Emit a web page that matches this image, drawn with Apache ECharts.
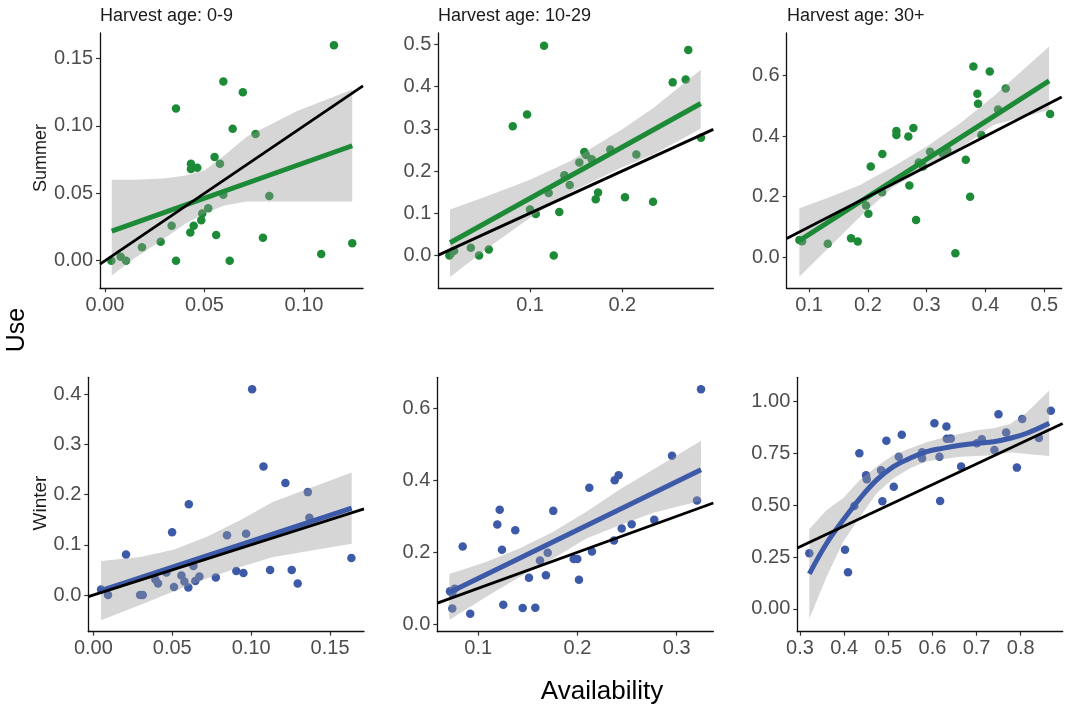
<!DOCTYPE html>
<html style="height: 100%">
<head>
<meta charset="utf-8">
<script src="https://cdn.jsdelivr.net/npm/echarts@6/dist/echarts.min.js"></script>
</head>
<body style="height: 100%; margin: 0; background: #fff">
<div id="container" style="width: 1069px; height: 711px"></div>
<script>
// ---- Summer, harvest age 0-9
var s09X = [0.1151, 0.0595, 0.0693, 0.0357, 0.0642, 0.0757, 0.0551, 0.0578, 0.0432, 0.0432, 0.0464, 0.0595, 0.0826, 0.0519, 0.0489, 0.0484, 0.0335, 0.0446, 0.0429, 0.0559, 0.0794, 0.0280, 0.0186, 0.1243, 0.1087, 0.0079, 0.0106, 0.0032, 0.0357, 0.0627];
var s09Y = [0.160, 0.133, 0.125, 0.113, 0.098, 0.094, 0.077, 0.072, 0.072, 0.068, 0.069, 0.049, 0.048, 0.039, 0.035, 0.030, 0.026, 0.026, 0.021, 0.019, 0.017, 0.014, 0.010, 0.013, 0.005, 0.003, 0.000, 0.000, 0.000, 0.000];
var s09FitX = [0.0034, 0.1243];
var s09FitY = [0.022, 0.0853];
var s09BandX = [0.0034, 0.015, 0.0293, 0.04, 0.05, 0.06, 0.0712, 0.0963, 0.1243];
var s09BandHi = [0.060, 0.060, 0.061, 0.063, 0.067, 0.078, 0.092, 0.111, 0.127];
var s09BandLo = [-0.011, 0.002, 0.016, 0.027, 0.035, 0.041, 0.044, 0.044, 0.044];

// ---- Summer, harvest age 10-29
var s1029X = [0.1152, 0.2715, 0.2546, 0.2687, 0.0968, 0.0813, 0.2853, 0.187, 0.1588, 0.1607, 0.1668, 0.2152, 0.1534, 0.1372, 0.143, 0.1202, 0.1737, 0.1712, 0.2029, 0.2333, 0.1, 0.1062, 0.1317, 0.0177, 0.0126, 0.0358, 0.0553, 0.0448, 0.1257, 0.014];
var s1029Y = [0.497, 0.487, 0.41, 0.417, 0.334, 0.306, 0.279, 0.251, 0.245, 0.238, 0.228, 0.239, 0.22, 0.19, 0.167, 0.148, 0.149, 0.133, 0.138, 0.127, 0.109, 0.098, 0.103, 0.011, 0, 0.018, 0.014, 0, 0, 0.004];
var s1029FitX = [0.0133, 0.285];
var s1029FitY = [0.03, 0.36];
var s1029BandX = [0.0133, 0.0531, 0.1, 0.1433, 0.2, 0.2336, 0.285];
var s1029BandHi = [0.109, 0.14, 0.179, 0.223, 0.299, 0.349, 0.44];
var s1029BandLo = [-0.051, 0.016, 0.089, 0.149, 0.209, 0.239, 0.30];

// ---- Summer, harvest age 30+
var s30X = [0.3794, 0.4073, 0.3862, 0.3874, 0.4345, 0.4214, 0.5099, 0.2485, 0.2485, 0.2689, 0.2774, 0.393, 0.2247, 0.3058, 0.3274, 0.3352, 0.2049, 0.2866, 0.2939, 0.3665, 0.2706, 0.3738, 0.2241, 0.1969, 0.2009, 0.282, 0.1714, 0.1828, 0.1318, 0.0835, 0.0881, 0.3488];
var s30Y = [0.630, 0.614, 0.540, 0.507, 0.558, 0.488, 0.473, 0.417, 0.404, 0.399, 0.427, 0.404, 0.341, 0.349, 0.342, 0.353, 0.300, 0.313, 0.300, 0.322, 0.237, 0.200, 0.215, 0.171, 0.144, 0.123, 0.063, 0.052, 0.045, 0.057, 0.053, 0.013];
var s30FitX = [0.0835, 0.5082];
var s30FitY = [0.055, 0.583];
var s30BandX = [0.0835, 0.130, 0.1867, 0.2434, 0.3002, 0.3568, 0.4134, 0.5082];
var s30BandHi = [0.162, 0.195, 0.239, 0.300, 0.366, 0.443, 0.531, 0.696];
var s30BandLo = [-0.064, 0.025, 0.134, 0.233, 0.294, 0.360, 0.437, 0.487];

// ---- Winter, harvest age 0-9
var w09X = [0.1006, 0.1078, 0.1217, 0.1359, 0.0605, 0.1369, 0.0499, 0.0847, 0.0968, 0.0207, 0.1635, 0.0634, 0.0906, 0.0951, 0.112, 0.1257, 0.0463, 0.0776, 0.0672, 0.0558, 0.0393, 0.041, 0.1295, 0.0577, 0.0646, 0.0511, 0.0602, 0.0049, 0.0093, 0.0296, 0.0313];
var w09Y = [0.410, 0.256, 0.223, 0.205, 0.181, 0.154, 0.125, 0.119, 0.122, 0.081, 0.074, 0.058, 0.048, 0.044, 0.050, 0.050, 0.045, 0.035, 0.037, 0.039, 0.031, 0.023, 0.023, 0.027, 0.028, 0.016, 0.015, 0.011, 0, 0, 0];
var w09FitX = [0.0049, 0.1637];
var w09FitY = [0.009, 0.173];
var w09BandX = [0.0049, 0.0296, 0.0507, 0.0719, 0.093, 0.114, 0.1637];
var w09BandHi = [0.068, 0.076, 0.090, 0.116, 0.149, 0.186, 0.244];
var w09BandLo = [-0.050, -0.020, 0.007, 0.033, 0.056, 0.076, 0.102];

// ---- Winter, harvest age 10-29
var w1029X = [0.3245, 0.2953, 0.2415, 0.2375, 0.2119, 0.1216, 0.1756, 0.3205, 0.1192, 0.1373, 0.2774, 0.2546, 0.2446, 0.2368, 0.0843, 0.1239, 0.2146, 0.17, 0.1962, 0.1998, 0.1622, 0.1682, 0.1511, 0.2015, 0.0715, 0.0762, 0.0738, 0.1252, 0.0738, 0.1448, 0.1575, 0.0919];
var w1029Y = [0.653, 0.468, 0.414, 0.400, 0.379, 0.318, 0.315, 0.344, 0.277, 0.261, 0.290, 0.278, 0.266, 0.233, 0.216, 0.207, 0.202, 0.199, 0.181, 0.181, 0.177, 0.136, 0.129, 0.124, 0.092, 0.099, 0.086, 0.054, 0.044, 0.045, 0.046, 0.029];
var w1029FitX = [0.0708, 0.3245];
var w1029FitY = [0.088, 0.429];
var w1029BandX = [0.0708, 0.1085, 0.142, 0.1756, 0.2093, 0.2428, 0.2764, 0.3245];
var w1029BandHi = [0.140, 0.174, 0.211, 0.257, 0.313, 0.375, 0.43, 0.510];
var w1029BandLo = [0.012, 0.077, 0.132, 0.183, 0.239, 0.275, 0.31, 0.343];

// ---- Winter, harvest age 30+ (loess)
var w30X = [0.8684, 0.7497, 0.6046, 0.8034, 0.6318, 0.5306, 0.4957, 0.7671, 0.8412, 0.6326, 0.6417, 0.712, 0.7007, 0.7406, 0.4345, 0.5766, 0.5766, 0.6159, 0.5238, 0.6651, 0.7914, 0.4497, 0.4512, 0.4837, 0.5125, 0.4867, 0.6175, 0.4231, 0.3211, 0.402, 0.4088];
var w30Y = [0.957, 0.940, 0.896, 0.917, 0.880, 0.841, 0.812, 0.851, 0.825, 0.821, 0.822, 0.819, 0.800, 0.767, 0.751, 0.756, 0.727, 0.735, 0.735, 0.687, 0.682, 0.645, 0.626, 0.669, 0.590, 0.520, 0.521, 0.497, 0.269, 0.286, 0.177];
var w30FitX = [0.3211, 0.3605, 0.3982, 0.436, 0.4739, 0.5116, 0.5494, 0.5873, 0.625, 0.6628, 0.7007, 0.7383, 0.7762, 0.814, 0.8646];
var w30FitY = [0.169, 0.317, 0.430, 0.534, 0.623, 0.687, 0.727, 0.759, 0.776, 0.790, 0.800, 0.807, 0.824, 0.848, 0.896];
var w30BandHi = [0.386, 0.477, 0.535, 0.623, 0.688, 0.743, 0.775, 0.805, 0.828, 0.846, 0.862, 0.872, 0.892, 0.948, 1.054];
var w30BandLo = [-0.048, 0.157, 0.325, 0.445, 0.558, 0.631, 0.679, 0.713, 0.724, 0.734, 0.738, 0.742, 0.756, 0.748, 0.738];

// tick labels
var ticks2dp = [0, 0.05, 0.10, 0.15];
var ticksTenths = [0, 0.1, 0.2, 0.3, 0.4, 0.5];
var ticksFifths = [0, 0.2, 0.4, 0.6];
var ticksAgeOld = [0.3, 0.4, 0.5, 0.6, 0.7, 0.8];
var ticksQuarters = [0, 0.25, 0.5, 0.75, 1.0];
var colTitles = ['Harvest age: 0-9', 'Harvest age: 10-29', 'Harvest age: 30+'];
var rowTitles = ['Summer', 'Winter'];

var GREEN = '#1c8a36';
var BLUE = '#3d5aa8';
var FONT = "'Liberation Sans', Arial, sans-serif";

var panels = [
    {grid: [100, 33, 263, 255.3], x: [-0.0025, 0.1297], y: [-0.0205, 0.169], xt: [0, 0.05, 0.10], xd: 2, yt: ticks2dp, yd: 2,
     px: s09X, py: s09Y, fx: s09FitX, fy: s09FitY, bx: s09BandX, bh: s09BandHi, bl: s09BandLo, col: GREEN},
    {grid: [438.3, 33, 275, 255.3], x: [0.0006, 0.2986], y: [-0.078, 0.527], xt: [0.1, 0.2], xd: 1, yt: ticksTenths, yd: 1,
     px: s1029X, py: s1029Y, fx: s1029FitX, fy: s1029FitY, bx: s1029BandX, bh: s1029BandHi, bl: s1029BandLo, col: GREEN},
    {grid: [786.7, 33, 275, 255.3], x: [0.062, 0.5296], y: [-0.1025, 0.741], xt: [0.1, 0.2, 0.3, 0.4, 0.5], xd: 1, yt: ticksFifths, yd: 1,
     px: s30X, py: s30Y, fx: s30FitX, fy: s30FitY, bx: s30BandX, bh: s30BandHi, bl: s30BandLo, col: GREEN},
    {grid: [88.3, 377.3, 275.7, 254.4], x: [-0.0032, 0.1715], y: [-0.073, 0.4337], xt: ticks2dp, xd: 2, yt: ticksTenths.slice(0, 5), yd: 1,
     px: w09X, py: w09Y, fx: w09FitX, fy: w09FitY, bx: w09BandX, bh: w09BandHi, bl: w09BandLo, col: BLUE},
    {grid: [437.3, 377.3, 276, 254.4], x: [0.0587, 0.3369], y: [-0.0206, 0.686], xt: [0.1, 0.2, 0.3], xd: 1, yt: ticksFifths, yd: 1,
     px: w1029X, py: w1029Y, fx: w1029FitX, fy: w1029FitY, bx: w1029BandX, bh: w1029BandHi, bl: w1029BandLo, col: BLUE},
    {grid: [797.3, 377.3, 265.4, 254.4], x: [0.2939, 0.8952], y: [-0.11, 1.118], xt: ticksAgeOld, xd: 1, yt: ticksQuarters, yd: 2,
     px: w30X, py: w30Y, fx: w30FitX, fy: w30FitY, bx: w30FitX, bh: w30BandHi, bl: w30BandLo, col: BLUE, smooth: true}
];

function zip(a, b) {
    return a.map(function (v, i) { return [v, b[i]]; });
}

function axisFor(idx, ext, ticks, digits) {
    return {
        type: 'value', gridIndex: idx, min: ext[0], max: ext[1],
        axisLine: {show: true, onZero: false, lineStyle: {color: '#111', width: 1.3}},
        axisTick: {show: true, length: 4, customValues: ticks, lineStyle: {color: '#333', width: 1.2}},
        axisLabel: {customValues: ticks, margin: 7, color: '#4d4d4d', fontSize: 20, fontFamily: FONT,
            formatter: function (v) { return (+v).toFixed(digits); }},
        splitLine: {show: false}
    };
}

var grids = [], xAxes = [], yAxes = [], series = [];

panels.forEach(function (p, i) {
    grids.push({left: p.grid[0], top: p.grid[1], width: p.grid[2], height: p.grid[3]});
    xAxes.push(axisFor(i, p.x, p.xt, p.xd));
    yAxes.push(axisFor(i, p.y, p.yt, p.yd));

    series.push({
        type: 'scatter', xAxisIndex: i, yAxisIndex: i, z: 2, silent: true,
        symbolSize: 8.5, itemStyle: {color: p.col, opacity: 1},
        data: zip(p.px, p.py)
    });
    // confidence band drawn over the points, semi-transparent like ggplot
    series.push({
        type: 'custom', xAxisIndex: i, yAxisIndex: i, z: 3, silent: true, clip: true,
        data: [[p.bx[0], p.bh[0]]],
        renderItem: (function (bx, bh, bl) {
            return function (params, api) {
                var pts = [];
                for (var k = 0; k < bx.length; k++) pts.push(api.coord([bx[k], bh[k]]));
                for (var k2 = bx.length - 1; k2 >= 0; k2--) pts.push(api.coord([bx[k2], bl[k2]]));
                return {type: 'polygon', shape: {points: pts}, style: {fill: 'rgba(153,153,153,0.4)'}};
            };
        })(p.bx, p.bh, p.bl)
    });
    series.push({
        type: 'line', xAxisIndex: i, yAxisIndex: i, z: 4, silent: true, showSymbol: false,
        smooth: p.smooth ? 0.4 : false,
        lineStyle: {color: p.col, width: 5, cap: 'butt'},
        data: zip(p.fx, p.fy)
    });
    // 1:1 reference line
    series.push({
        type: 'line', xAxisIndex: i, yAxisIndex: i, z: 5, silent: true, showSymbol: false,
        lineStyle: {color: '#000', width: 2.8},
        data: [[p.x[0], p.x[0]], [p.x[1], p.x[1]]]
    });
});

var texts = [
    {type: 'text', left: 100, top: 7, style: {text: colTitles[0], fontSize: 18, fontFamily: FONT, fill: '#1a1a1a'}},
    {type: 'text', left: 438, top: 7, style: {text: colTitles[1], fontSize: 18, fontFamily: FONT, fill: '#1a1a1a'}},
    {type: 'text', left: 787, top: 7, style: {text: colTitles[2], fontSize: 18, fontFamily: FONT, fill: '#1a1a1a'}},
    {type: 'text', x: 41, y: 158, rotation: Math.PI / 2, style: {text: rowTitles[0], fontSize: 18, fontFamily: FONT, fill: '#1a1a1a', align: 'center', verticalAlign: 'middle'}},
    {type: 'text', x: 41, y: 503, rotation: Math.PI / 2, style: {text: rowTitles[1], fontSize: 19, fontFamily: FONT, fill: '#1a1a1a', align: 'center', verticalAlign: 'middle'}},
    {type: 'text', x: 17, y: 330, rotation: Math.PI / 2, style: {text: 'Use', fontSize: 25, fontFamily: FONT, fill: '#000', align: 'center', verticalAlign: 'middle'}},
    {type: 'text', x: 602, y: 692, style: {text: 'Availability', fontSize: 26, fontFamily: FONT, fill: '#000', align: 'center', verticalAlign: 'middle'}}
];

var myChart = echarts.init(document.getElementById('container'));
var option = {
    animation: false,
    backgroundColor: '#fff',
    grid: grids,
    xAxis: xAxes,
    yAxis: yAxes,
    series: series,
    graphic: texts
};
myChart.setOption(option);
</script>
</body>
</html>
